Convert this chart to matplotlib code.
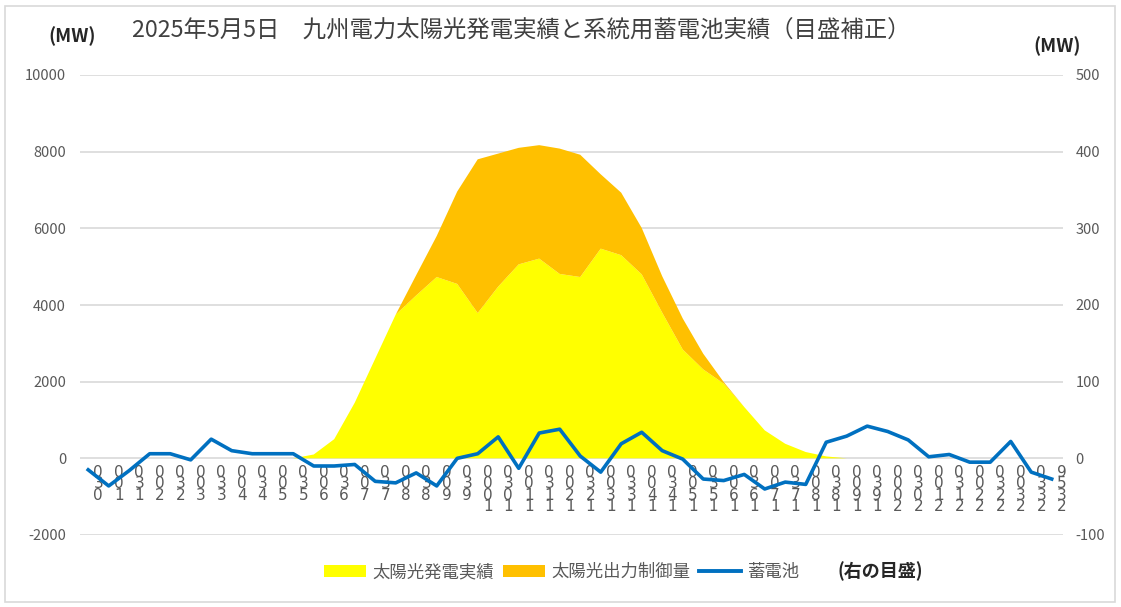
import matplotlib.pyplot as plt
import matplotlib.transforms as mtransforms
from matplotlib.patches import Patch, Rectangle
from matplotlib.lines import Line2D
import numpy as np

plt.rcParams['font.family'] = ['Noto Sans CJK JP', 'DejaVu Sans']

# half-hour slots, 0:30 .. 23:59
times = ["0:30", "1:00", "1:30", "2:00", "2:30", "3:00", "3:30", "4:00",
         "4:30", "5:00", "5:30", "6:00", "6:30", "7:00", "7:30", "8:00",
         "8:30", "9:00", "9:30", "10:00", "10:30", "11:00", "11:30", "12:00",
         "12:30", "13:00", "13:30", "14:00", "14:30", "15:00", "15:30", "16:00",
         "16:30", "17:00", "17:30", "18:00", "18:30", "19:00", "19:30", "20:00",
         "20:30", "21:00", "21:30", "22:00", "22:30", "23:00", "23:30", "23:59"]

# 太陽光発電実績 (MW, left axis)
solar = [0, 0, 0, 0, 0, 0, 0, 0, 0, 0,
         0, 100, 500, 1450, 2600, 3750, 4250, 4730, 4550, 3790,
         4480, 5060, 5210, 4810, 4730, 5470, 5300, 4800, 3800, 2840,
         2320, 1950, 1340, 730, 380, 165, 50, 0, 0, 0,
         0, 0, 0, 0, 0, 0, 0, 0]

# 太陽光出力制御量 (MW, stacked on top)
curtail = [0, 0, 0, 0, 0, 0, 0, 0, 0, 0,
           0, 0, 0, 0, 0, 0, 530, 1070, 2410, 4010,
           3470, 3040, 2960, 3270, 3190, 1940, 1630, 1210, 950, 810,
           410, 40, 0, 0, 0, 0, 0, 0, 0, 0,
           0, 0, 0, 0, 0, 0, 0, 0]

# 蓄電池 (MW, right axis)
battery = [-15, -36, -16, 6, 6, -2, 25, 10, 6, 6,
           6, -10, -10, -8, -30, -32, -19, -36, 0, 6,
           28, -13, 33, 38, 3, -18, 19, 34, 10, -1,
           -27, -29, -21, -40, -31, -34, 21, 29, 42, 35,
           24, 2, 5, -5, -5, 22, -18, -27]

left_ticks = [-2000, 0, 2000, 4000, 6000, 8000, 10000]
right_ticks = [-100, 0, 100, 200, 300, 400, 500]

x = np.arange(len(times))
gray = '#595959'

fig = plt.figure(figsize=(11.21, 6.07), dpi=100)
ax = fig.add_axes([80 / 1121, 1 - 535 / 607, (1063 - 80) / 1121, (535 - 75) / 607])

ax.stackplot(x, solar, curtail, colors=['#FFFF00', '#FFC000'], linewidth=0, zorder=2)
ax.set_xlim(-0.4, 47.55)
ax.set_ylim(-2000, 10000)
ax.set_yticks(left_ticks)
ax.set_yticklabels([str(t) for t in left_ticks])
ax.set_xticks([])
ax.grid(axis='y', color='#d9d9d9', linewidth=1.2, zorder=0)
ax.set_axisbelow(True)
ax.tick_params(axis='y', length=0, pad=10, labelsize=10.5, labelcolor=gray)
for s in ax.spines.values():
    s.set_visible(False)

# stacked category labels next to the zero line
off = mtransforms.offset_copy(ax.transData, fig=fig, x=10, y=-7, units='dots')
for i, t in enumerate(times):
    ax.text(x[i], 0, "\n".join(reversed(t.replace(":", ""))), transform=off,
            ha='center', va='top', fontsize=11, color=gray,
            linespacing=0.68, family='DejaVu Sans', zorder=1)

ax2 = ax.twinx()
ax2.plot(x, battery, color='#0070C0', linewidth=2.6, solid_joinstyle='round', zorder=3)
ax2.set_ylim(-100, 500)
ax2.set_yticks(right_ticks)
ax2.set_yticklabels([str(t) for t in right_ticks])
ax2.tick_params(axis='y', length=0, pad=9, labelsize=10.5, labelcolor=gray)
for s in ax2.spines.values():
    s.set_visible(False)

fig.text(521 / 1121, 1 - 30 / 607, "2025年5月5日　九州電力太陽光発電実績と系統用蓄電池実績（目盛補正）",
         ha='center', va='center', fontsize=16.8, color='#404040')
fig.text(72 / 1121, 1 - 36 / 607, "(MW)", ha='center', va='center',
         fontsize=13.5, fontweight='bold', color='#262626')
fig.text(1057 / 1121, 1 - 46 / 607, "(MW)", ha='center', va='center',
         fontsize=13.5, fontweight='bold', color='#262626')

handles = [Patch(facecolor='#FFFF00', label='太陽光発電実績'),
           Patch(facecolor='#FFC000', label='太陽光出力制御量'),
           Line2D([0], [0], color='#0070C0', linewidth=2.8, label='蓄電池')]
leg = fig.legend(handles=handles, loc='center', bbox_to_anchor=(562 / 1121, 1 - 572 / 607),
                 ncol=3, frameon=False, fontsize=12.5, handlelength=2.4,
                 handletextpad=0.4, columnspacing=0.5, labelcolor=gray)
fig.text(880 / 1121, 1 - 571 / 607, "(右の目盛)", ha='center', va='center',
         fontsize=13, fontweight='bold', color='#262626')

fig.patches.append(Rectangle((5 / 1121, 5 / 607), 1110 / 1121, 596 / 607,
                             transform=fig.transFigure, fill=False,
                             edgecolor='#d9d9d9', linewidth=1.2))

fig.savefig('out.png', dpi=100)
